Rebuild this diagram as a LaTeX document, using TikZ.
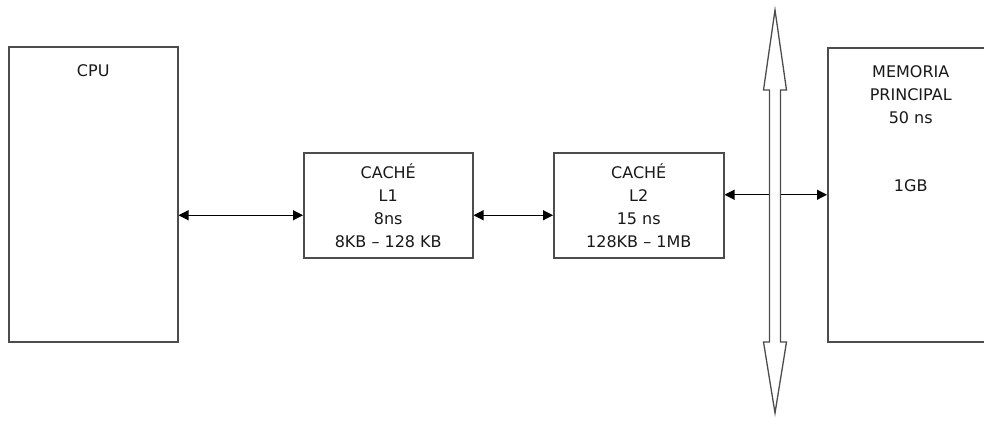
\documentclass[tikz,border=0pt]{standalone}
\usepackage{fontspec}
\setmainfont{DejaVu Sans}
\usetikzlibrary{arrows.meta, positioning, calc}
\tikzset{
  blk/.style  = {rectangle, draw=black!70, line width=1.5pt, fill=white,
                 inner sep=0pt, anchor=north west, align=center,
                 font=\fontsize{16}{23}\selectfont, text=black!90},
  txt/.style  = {font=\fontsize{16}{23}\selectfont, align=center,
                 text=black!90, inner sep=0pt},
  link/.style = {{Triangle[length=10pt,width=10pt]}-{Triangle[length=10pt,width=10pt]},
                 draw=black, line width=1.1pt},
  bus/.style  = {draw=black!70, line width=1.3pt, fill=white},
}

\begin{document}
\begin{tikzpicture}[x=1pt, y=-1pt]
  \useasboundingbox (0,0) rectangle (984,423);

  % blocks
  \node[blk, minimum width=169pt, minimum height=295pt] (cpu) at (8,46) {};
  \node[txt, below=18pt of cpu.north] (cpulbl) {CPU};
  \node[blk, minimum width=169pt, minimum height=105pt, text depth=-4pt] (l1) at (303,152)
       {CACHÉ\\L1\\8ns\\8KB – 128 KB};
  \node[blk, minimum width=170pt, minimum height=105pt, text depth=-4pt] (l2) at (553,152)
       {CACHÉ\\L2\\15 ns\\128KB – 1MB};
  \node[blk, minimum width=166pt, minimum height=294pt] (mem) at (827,47) {};
  \node[txt, below=18pt of mem.north] (memlbl) {MEMORIA\\PRINCIPAL\\50 ns\\[45pt]1GB};

  % links
  \draw[link] ([yshift=-10pt]cpu.east |- l1.west) -- ([yshift=-10pt]l1.west);
  \draw[link] ([yshift=-10pt]l1.east) -- ([yshift=-10pt]l2.west);
  \draw[link] (l2.east |- mem.west) -- (mem.west);

  % bus
  \draw[bus] (775,10) -- (786.5,90) -- (780.5,90) -- (780.5,342) -- (786.5,342)
     -- (775,413) -- (763.5,342) -- (769.5,342) -- (769.5,90) -- (763.5,90) -- cycle;
\end{tikzpicture}
\end{document}
